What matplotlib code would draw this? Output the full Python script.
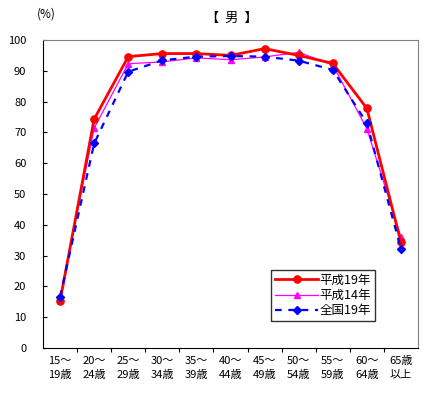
import numpy as np
import matplotlib.pyplot as plt

plt.rcParams['font.family'] = ['Noto Sans CJK JP', 'DejaVu Sans']

ages = ['15～\n19歳', '20～\n24歳', '25～\n29歳', '30～\n34歳', '35～\n39歳', '40～\n44歳',
        '45～\n49歳', '50～\n54歳', '55～\n59歳', '60～\n64歳', '65歳\n以上']
h19 = [15.2, 74.3, 94.6, 95.6, 95.6, 95.0, 97.2, 95.0, 92.4, 77.8, 34.3]
h14 = [16.5, 71.4, 92.3, 92.9, 94.2, 93.6, 94.5, 96.0, 91.9, 71.2, 36.0]
zenkoku19 = [16.6, 66.4, 89.7, 93.4, 94.6, 94.8, 94.6, 93.3, 90.3, 73.0, 32.2]

fig = plt.figure(figsize=(4.42, 3.93), dpi=100)
ax = fig.add_axes([0.0973, 0.1145, 0.8484, 0.7837])

x = np.arange(len(ages))
ax.plot(x, h19, color='#ff0000', lw=2.0, marker='o', ms=5.2, label='平成19年', zorder=3)
ax.plot(x, h14, color='#ff00ff', lw=0.9, marker='^', ms=4.8, label='平成14年', zorder=2)
ax.plot(x, zenkoku19, color='#0000ff', lw=1.6, ls=(0, (3, 3)), marker='D', ms=3.6,
        label='全国19年', zorder=4)

ax.set_xlim(-0.5, 10.5)
ax.set_ylim(0, 100)
ax.set_yticks(np.arange(0, 101, 10))
ax.tick_params(axis='y', direction='in', length=3, labelsize=8, pad=12)
ax.set_xticks(np.arange(0.5, 10.5, 1))
ax.set_xticklabels([])
ax.tick_params(axis='x', which='major', direction='out', length=3)
ax.set_xticks(x, minor=True)
ax.set_xticklabels(ages, minor=True, fontsize=8, linespacing=1.4)
ax.tick_params(axis='x', which='minor', length=0, pad=6)

for s in ['top', 'right']:
    ax.spines[s].set_color('#808080')
for s in ['left', 'bottom']:
    ax.spines[s].set_color('black')

fig.text(0.525, 0.953, '【  男  】', ha='center', va='center', fontsize=9.5)
fig.text(0.105, 0.965, '(%)', ha='center', va='center', fontsize=8.5)

leg = ax.legend(loc='lower right', bbox_to_anchor=(0.885, 0.088), fontsize=9,
                frameon=True, fancybox=False, edgecolor='black', handlelength=3.5,
                borderpad=0.3, labelspacing=0.18, handletextpad=0.1, borderaxespad=0)
leg.get_frame().set_linewidth(1.0)

fig.savefig('out.png', dpi=100)
